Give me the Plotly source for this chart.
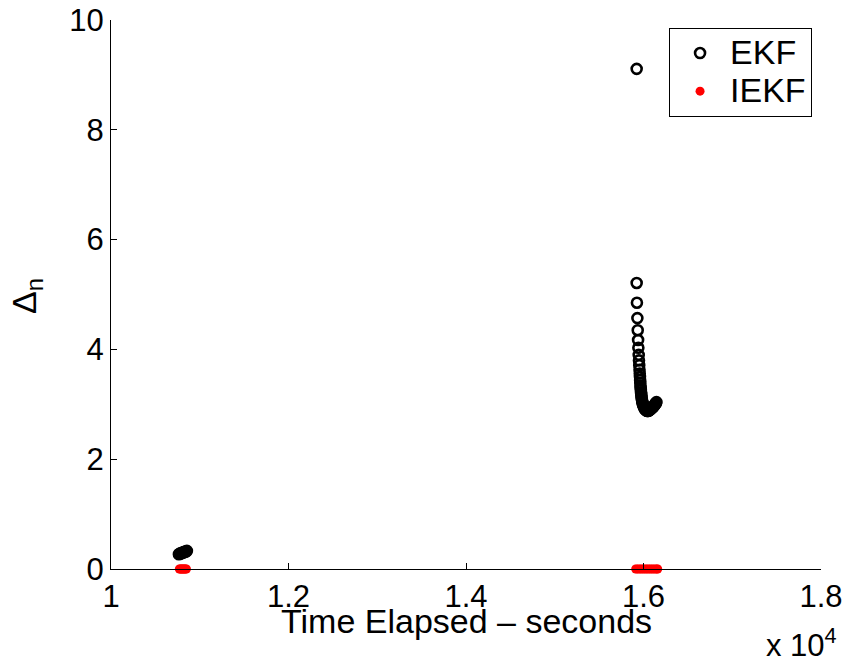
import plotly.graph_objects as go

# EKF values (time in seconds, Delta_n)
ekf_t1 = [10765, 10775, 10785, 10795, 10805, 10815, 10825, 10835, 10845, 10855]
ekf_d1 = [0.27, 0.28, 0.28, 0.29, 0.30, 0.30, 0.31, 0.32, 0.32, 0.33]

ekf_t2 = [15923, 15923, 15926, 15931, 15935, 15939, 15942, 15946, 15949, 15952,
          15955, 15958, 15960, 15962, 15964, 15966, 15968, 15970, 15972, 15974,
          15976, 15978, 15981, 15984, 15987, 15990, 15994, 15998, 16003, 16008,
          16013, 16019, 16025, 16031, 16037, 16043, 16050, 16057, 16064, 16071,
          16078, 16085, 16092, 16099, 16106, 16113, 16120, 16127, 16134, 16140, 16146]
ekf_d2 = [9.11, 5.21, 4.85, 4.57, 4.35, 4.17, 4.03, 3.90, 3.80, 3.71,
          3.63, 3.56, 3.50, 3.44, 3.39, 3.34, 3.30, 3.26, 3.22, 3.19,
          3.16, 3.13, 3.10, 3.07, 3.04, 3.02, 3.00, 2.98, 2.96, 2.94,
          2.92, 2.91, 2.90, 2.89, 2.88, 2.88, 2.88, 2.88, 2.89, 2.90,
          2.91, 2.92, 2.93, 2.94, 2.95, 2.96, 2.98, 2.99, 3.01, 3.02, 3.04]

# IEKF values
iekf_t1 = [10770, 10780, 10790, 10800, 10810, 10820, 10830, 10840, 10850]
iekf_d1 = [0, 0, 0, 0, 0, 0, 0, 0, 0]
iekf_t2 = [15912, 15930, 15950, 15970, 15990, 16010, 16030, 16050, 16070,
           16090, 16110, 16130, 16150, 16160]
iekf_d2 = [0, 0, 0, 0, 0, 0, 0, 0, 0, 0, 0, 0, 0, 0]

x_tickvals = [10000, 12000, 14000, 16000, 18000]
x_ticktext = ["1", "1.2", "1.4", "1.6", "1.8"]
y_tickvals = [0, 2, 4, 6, 8, 10]

FONT = "Liberation Sans, Arial, sans-serif"
FS = 31
FT = 34

fig = go.Figure()
fig.add_trace(go.Scatter(
    x=ekf_t1 + ekf_t2, y=ekf_d1 + ekf_d2, mode="markers",
    name="<span style='font-size:34px'>EKF</span>",
    marker=dict(symbol="circle-open", size=10, color="black", line=dict(width=2.6, color="black")),
))
fig.add_trace(go.Scatter(
    x=iekf_t1 + iekf_t2, y=iekf_d1 + iekf_d2, mode="markers",
    name="<span style='font-size:34px'>IEKF</span>",
    marker=dict(symbol="circle", size=9, color="red"),
    cliponaxis=False,
))

axis_common = dict(
    showgrid=False, zeroline=False, showline=True, linecolor="black", linewidth=1,
    ticks="inside", ticklen=6, tickcolor="black", tickwidth=1,
    tickfont=dict(family=FONT, size=FS, color="black"),
    mirror=False, automargin=False,
)

fig.update_layout(
    width=851, height=667,
    margin=dict(l=110.5, r=29.5, t=20, b=98),
    paper_bgcolor="white", plot_bgcolor="white",
    font=dict(family=FONT, size=FS, color="black"),
    xaxis=dict(range=[10000, 18000], tickvals=x_tickvals, ticktext=x_ticktext,
               **axis_common),
    yaxis=dict(range=[0, 10], tickvals=y_tickvals, **axis_common),
    showlegend=True,
    legend=dict(x=0.786, y=0.9854, xanchor="left", yanchor="top",
                bordercolor="black", borderwidth=1, bgcolor="white",
                font=dict(family=FONT, size=27, color="black"),
                itemwidth=50, itemsizing="trace"),
    annotations=[
        dict(text="Time Elapsed \u2013 seconds", xref="paper", yref="paper",
             x=0.5, y=-0.094, xanchor="center", yanchor="middle",
             showarrow=False, font=dict(family=FONT, size=FT, color="black")),
        dict(text="x 10<sup>4</sup>", xref="paper", yref="paper",
             x=1.026, y=-0.135, xanchor="right", yanchor="middle",
             showarrow=False, font=dict(family=FONT, size=FS, color="black")),
        dict(text="\u0394<sub>n</sub>", xref="paper", yref="paper",
             x=-0.12, y=0.497, xanchor="center", yanchor="middle", textangle=-90,
             showarrow=False, font=dict(family=FONT, size=FT, color="black")),
    ],
)

fig.write_html("out.html")
